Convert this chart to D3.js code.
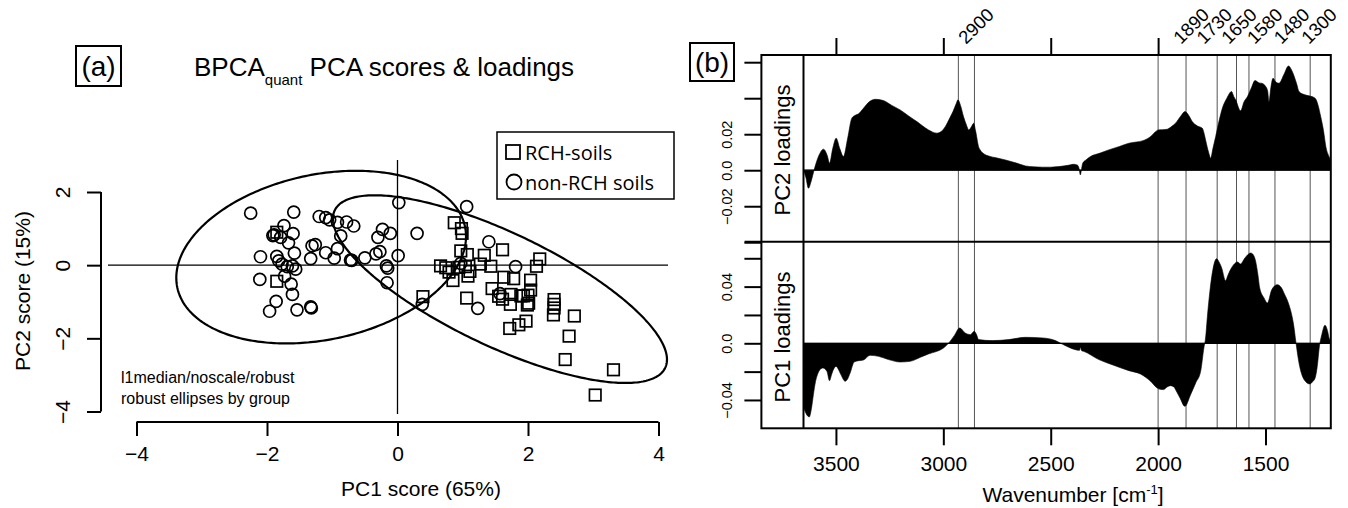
<!DOCTYPE html>
<html><head><meta charset="utf-8">
<script src="https://cdn.jsdelivr.net/npm/d3@7"></script>
<style>body{margin:0;background:#fff}svg{display:block}</style>
</head><body>
<svg id="c" width="1348" height="508"></svg>
<script>
// ---------- Panel (a) data ----------
const rchX = [-1.85,-1.85,0.87,0.98,0.99,0.97,1.07,1.33,1.61,2.18,2.13,0.66,0.74,0.79,0.94,1.04,1.08,1.11,1.27,1.43,0.85,1.63,1.78,2.04,1.45,0.39,1.06,1.55,1.61,1.73,1.74,1.89,1.93,2.00,1.99,2.01,2.04,2.40,2.40,2.40,2.39,2.71,1.97,1.86,1.72,2.63,2.57,3.31,3.03];
const rchY = [0.90,-0.44,1.16,1.00,0.87,0.39,0.29,0.27,0.42,0.17,-0.03,-0.02,-0.07,-0.19,-0.06,-0.04,-0.30,-0.17,0.03,-0.03,-0.42,-0.33,-0.37,-0.41,-0.64,-0.86,-0.90,-0.85,-0.93,-1.07,-0.80,-0.84,-0.84,-0.82,-1.09,-1.04,-0.68,-0.94,-1.07,-1.17,-1.36,-1.39,-1.53,-1.63,-1.73,-1.94,-2.58,-2.86,-3.55];
const nonX = [-2.25,-1.59,-1.20,-1.10,-1.04,-0.92,-0.78,-0.67,-1.74,-1.60,-1.91,-1.89,-1.79,-1.67,-1.31,-1.26,-0.87,-0.92,-1.10,-0.97,-0.72,-0.70,-0.50,-0.33,-0.27,-0.23,-0.11,-0.30,0.01,-0.17,-0.15,-0.16,0.02,-2.10,-2.11,-1.85,-1.82,-1.77,-1.69,-1.61,-1.56,-1.58,-1.33,-1.73,-1.63,-1.61,-1.86,-1.96,-1.54,-1.33,-1.32,1.06,0.30,1.40,1.81,1.23,0.38,1.57,0.97];
const nonY = [1.42,1.45,1.33,1.30,1.24,1.17,1.18,1.07,1.08,0.86,0.81,0.83,0.76,0.61,0.53,0.56,0.80,0.45,0.34,0.19,0.14,0.13,0.20,0.31,0.37,0.98,0.87,0.76,0.26,-0.02,-0.08,-0.48,1.71,0.23,-0.39,0.24,0.12,0.03,-0.04,-0.02,-0.11,0.33,0.18,-0.30,-0.52,-0.80,-0.99,-1.26,-1.22,-1.14,-1.17,1.60,0.87,0.64,-0.04,-1.18,-1.07,-0.78,0.05];
const groups = ["RCH-soils", "non-RCH soils"];
// robust ellipses: x = cx + ax*cos t, y = cy + by*cos(t - phi)
const ellCx = [1.57, -1.17];
const ellCy = [-0.655, 0.22];
const ellAx = [2.56, 2.22];
const ellBy = [2.565, 2.36];
const ellPhi = [2.419, 1.328];
const xTicksA = [-4, -2, 0, 2, 4];
const yTicksA = [-4, -2, 0, 2];

// ---------- Panel (b) data ----------
const pc2Wn  = [3651,3640,3628,3615,3602,3580,3558,3540,3530,3515,3499,3482,3465,3445,3426,3410,3395,3372,3345,3317,3279,3240,3201,3160,3123,3069,3030,3010,2991,2970,2955,2940,2932,2920,2906,2892,2882,2870,2859,2850,2836,2828,2810,2789,2750,2711,2660,2618,2580,2540,2500,2463,2420,2393,2375,2368,2362,2356,2351,2335,2315,2270,2230,2180,2136,2100,2074,2050,2035,2012,1999,1980,1957,1935,1919,1895,1875,1855,1841,1817,1794,1785,1779,1765,1755,1745,1732,1715,1701,1680,1658,1648,1639,1616,1600,1584,1565,1549,1530,1518,1499,1490,1484,1475,1465,1452,1437,1415,1393,1380,1372,1355,1344,1320,1297,1269,1255,1243,1230,1219,1201,1196];
const pc2Val = [0,-0.004,-0.010,-0.006,0,0.008,0.0117,0.008,0.0039,0.012,0.0178,0.012,0.0076,0.018,0.0289,0.0305,0.0313,0.0344,0.038,0.0394,0.0387,0.036,0.0335,0.030,0.0270,0.0224,0.0206,0.0215,0.0242,0.029,0.0326,0.037,0.0391,0.036,0.0298,0.025,0.0224,0.024,0.0261,0.022,0.0131,0.0112,0.009,0.0079,0.0068,0.0057,0.0040,0.0024,0.0019,0.0017,0.0017,0.0020,0.0027,0.0033,0.0028,0.0010,-0.0026,0.0010,0.0039,0.0058,0.0076,0.0095,0.0113,0.0132,0.0150,0.0157,0.0163,0.0175,0.0187,0.0214,0.0224,0.0225,0.0228,0.0245,0.0261,0.030,0.0326,0.030,0.0270,0.0246,0.0233,0.020,0.0168,0.010,0.0067,0.012,0.0187,0.028,0.0344,0.040,0.0437,0.041,0.0391,0.0330,0.038,0.0409,0.046,0.0498,0.0485,0.0483,0.0465,0.044,0.0381,0.046,0.0511,0.049,0.0483,0.053,0.0579,0.056,0.0539,0.048,0.0437,0.042,0.0413,0.0400,0.036,0.0298,0.022,0.0131,0.0067,0.005];
const pc1Wn  = [3651,3644,3624,3614,3605,3595,3586,3570,3561,3542,3530,3520,3512,3499,3490,3477,3457,3445,3434,3415,3395,3372,3341,3302,3255,3201,3154,3107,3069,3030,2999,2976,2949,2924,2898,2874,2856,2845,2836,2773,2696,2618,2540,2478,2447,2385,2366,2362,2356,2346,2276,2214,2136,2082,2035,2004,1990,1975,1960,1942,1925,1919,1900,1875,1849,1825,1802,1787,1779,1770,1759,1745,1728,1715,1704,1686,1675,1663,1645,1631,1616,1596,1569,1555,1546,1535,1527,1507,1491,1471,1445,1425,1414,1395,1382,1368,1359,1344,1320,1294,1280,1269,1258,1250,1238,1223,1210,1204,1196];
const pc1Val = [-0.045,-0.048,-0.052,-0.046,-0.0363,-0.027,-0.0221,-0.018,-0.0174,-0.0198,-0.0264,-0.022,-0.0186,-0.0163,-0.018,-0.0221,-0.0268,-0.025,-0.0210,-0.0132,-0.0123,-0.0118,-0.0085,-0.0092,-0.0115,-0.0132,-0.0127,-0.0099,-0.0075,-0.0057,-0.0033,0,0.0054,0.0108,0.0073,0.0061,0.0085,0.006,0.0026,0.0019,0.0026,0.0042,0.0038,0.0019,-0.0005,-0.0045,-0.0050,-0.0028,-0.0052,-0.0057,-0.0115,-0.0151,-0.0193,-0.0217,-0.0268,-0.0316,-0.0325,-0.0327,-0.031,-0.0299,-0.031,-0.0327,-0.038,-0.0445,-0.0363,-0.0280,-0.0198,-0.0033,0.0037,0.020,0.0367,0.052,0.0597,0.057,0.0532,0.0442,0.048,0.0520,0.056,0.0574,0.0560,0.0602,0.0637,0.062,0.0579,0.048,0.0390,0.0320,0.0284,0.0378,0.0414,0.039,0.0355,0.029,0.0226,0.012,0.0014,-0.0139,-0.0257,-0.0287,-0.027,-0.0245,-0.015,-0.0033,0.0061,0.0127,0.008,0.0037,0.002];
const bandWn = [2930, 2855, 2000, 1870, 1725, 1635, 1577, 1456, 1292];
const bandLabels = ["2900", "1890", "1730", "1650", "1580", "1480", "1300"];
const bandLabelWn = [2895, 1893, 1785, 1670, 1550, 1425, 1298];
const wnTicksBottom = [3500, 3000, 2500, 2000, 1500];
const wnTicksTop = [3500, 3000, 2500, 2000];
const pc2Ticks = [-0.04, -0.02, 0, 0.02, 0.04, 0.06];
const pc2Labels = ["", "\u22120.02", "0.0", "0.02", "", ""];
const pc1Ticks = [-0.04, -0.02, 0, 0.02, 0.04, 0.06];
const pc1Labels = ["\u22120.04", "", "0.0", "", "0.04", ""];

// ---------- drawing ----------
const svg = d3.select("#c");
const F = "'Liberation Sans', Arial, Helvetica, sans-serif";
const fmtA = d => d < 0 ? "\u2212" + Math.abs(d) : String(d);

// ===== Panel (a) =====
const xA = d3.scaleLinear().domain([-4, 4]).range([136.5, 658.5]);
const yA = d3.scaleLinear().domain([-4, 2]).range([411.5, 192]);
const gA = svg.append("g");

const xAxisA = d3.axisBottom(xA).tickValues(xTicksA).tickSize(14).tickPadding(5).tickFormat(fmtA);
const gxA = gA.append("g").attr("transform", "translate(0,422)").call(xAxisA);
const yAxisA = d3.axisLeft(yA).tickValues(yTicksA).tickSize(14).tickPadding(12).tickFormat(fmtA);
const gyA = gA.append("g").attr("transform", "translate(101,0)").call(yAxisA);
[gxA, gyA].forEach(g => {
  g.select(".domain").attr("stroke", "#000").attr("stroke-width", 2);
  g.selectAll(".tick line").attr("stroke", "#000").attr("stroke-width", 2);
  g.selectAll("text").attr("font-family", F).attr("font-size", 21).attr("fill", "#000");
});
gxA.selectAll(".domain").attr("d", `M${xA(-4)},0H${xA(4)}`);
gyA.selectAll(".domain").attr("d", `M0,${yA(-4)}V${yA(2)}`);
gyA.selectAll(".tick text").attr("text-anchor", "middle").attr("x", 0).attr("y", 0).attr("dy", 0)
   .attr("dominant-baseline", "central").attr("transform", "translate(-39,0) rotate(-90)");
gxA.selectAll(".tick text").attr("dy", "0.95em");

// zero lines
gA.append("line").attr("x1", 108).attr("x2", 668).attr("y1", yA(0)).attr("y2", yA(0)).attr("stroke", "#000").attr("stroke-width", 1.3);
gA.append("line").attr("x1", xA(0)).attr("x2", xA(0)).attr("y1", 160).attr("y2", 414).attr("stroke", "#000").attr("stroke-width", 1.3);

// ellipses
const tt = d3.range(0, 2 * Math.PI + 0.01, 0.02);
const lineA = d3.line().x(d => xA(d[0])).y(d => yA(d[1]));
groups.forEach((g, i) => {
  const pts = tt.map(t => [ellCx[i] + ellAx[i] * Math.cos(t), ellCy[i] + ellBy[i] * Math.cos(t - ellPhi[i])]);
  gA.append("path").attr("d", lineA(pts) + "Z").attr("fill", "none").attr("stroke", "#000").attr("stroke-width", 2.2);
});

// points
const sq = 11.5;
gA.append("g").selectAll("rect").data(d3.zip(rchX, rchY)).join("rect")
  .attr("x", d => xA(d[0]) - sq / 2).attr("y", d => yA(d[1]) - sq / 2)
  .attr("width", sq).attr("height", sq).attr("fill", "none").attr("stroke", "#000").attr("stroke-width", 1.7);
gA.append("g").selectAll("circle").data(d3.zip(nonX, nonY)).join("circle")
  .attr("cx", d => xA(d[0])).attr("cy", d => yA(d[1])).attr("r", 6)
  .attr("fill", "none").attr("stroke", "#000").attr("stroke-width", 1.7);

// axis titles
gA.append("text").attr("x", 421).attr("y", 496).attr("text-anchor", "middle")
  .attr("font-family", F).attr("font-size", 21).text("PC1 score (65%)");
gA.append("text").attr("transform", "translate(22,291) rotate(-90)").attr("text-anchor", "middle")
  .attr("dominant-baseline", "central").attr("font-family", F).attr("font-size", 21).text("PC2 score (15%)");

// annotation
gA.append("text").attr("x", 121).attr("y", 383).attr("font-family", F).attr("font-size", 16).text("l1median/noscale/robust");
gA.append("text").attr("x", 121).attr("y", 404).attr("font-family", F).attr("font-size", 16).text("robust ellipses by group");

// title
const tA = gA.append("text").attr("x", 194).attr("y", 76).attr("font-family", F).attr("font-size", 26);
tA.append("tspan").text("BPCA");
tA.append("tspan").attr("font-size", 15).attr("dy", 9).text("quant");
tA.append("tspan").attr("dy", -9).text(" PCA scores & loadings");

// (a) label
gA.append("rect").attr("x", 76).attr("y", 46).attr("width", 45).attr("height", 40).attr("fill", "none").attr("stroke", "#000").attr("stroke-width", 2);
gA.append("text").attr("x", 98.5).attr("y", 76).attr("text-anchor", "middle").attr("font-family", F).attr("font-size", 28).text("(a)");

// legend
const LF = "'Open Sans', 'Noto Sans', sans-serif";
gA.append("rect").attr("x", 497).attr("y", 132).attr("width", 177).attr("height", 67).attr("fill", "#fff").attr("stroke", "#000").attr("stroke-width", 1.5);
groups.forEach((g, i) => {
  const cy = 152 + i * 30;
  if (i === 0) gA.append("rect").attr("x", 506).attr("y", cy - 7).attr("width", 14).attr("height", 14).attr("fill", "none").attr("stroke", "#000").attr("stroke-width", 1.8);
  else gA.append("circle").attr("cx", 514).attr("cy", cy).attr("r", 7.5).attr("fill", "none").attr("stroke", "#000").attr("stroke-width", 1.8);
  gA.append("text").attr("x", 525).attr("y", cy).attr("dominant-baseline", "central")
    .attr("font-family", LF).attr("font-size", 20).text(g);
});

// ===== Panel (b) =====
const xB = d3.scaleLinear().domain([3847, 1196]).range([761.4, 1330.8]);
const yTop = d3.scaleLinear().domain([-0.0397, 0.064]).range([241.7, 55]);
const yBot = d3.scaleLinear().domain([-0.060, 0.0717]).range([428.3, 241.7]);
const gB = svg.append("g");
const x0 = xB(3651), x1 = xB(1196);

gB.append("g").selectAll("line").data(bandWn).join("line")
  .attr("x1", d => xB(d)).attr("x2", d => xB(d)).attr("y1", 55).attr("y2", 428.3)
  .attr("stroke", "#555").attr("stroke-width", 1);

const clip = svg.append("clipPath").attr("id", "clipB");
clip.append("rect").attr("x", x0).attr("y", 55).attr("width", x1 - x0).attr("height", 373.3);
const areaTop = d3.area().x(d => xB(d[0])).y0(yTop(0)).y1(d => yTop(d[1])).curve(d3.curveMonotoneX);
const areaBot = d3.area().x(d => xB(d[0])).y0(yBot(0)).y1(d => yBot(d[1])).curve(d3.curveMonotoneX);
gB.append("path").attr("clip-path", "url(#clipB)").attr("d", areaTop(d3.zip(pc2Wn, pc2Val))).attr("fill", "#000").attr("stroke", "#000").attr("stroke-width", 0.6);
gB.append("path").attr("clip-path", "url(#clipB)").attr("d", areaBot(d3.zip(pc1Wn, pc1Val))).attr("fill", "#000").attr("stroke", "#000").attr("stroke-width", 0.6);
gB.append("line").attr("x1", x0).attr("x2", x1).attr("y1", yTop(0)).attr("y2", yTop(0)).attr("stroke", "#000").attr("stroke-width", 1.3);
gB.append("line").attr("x1", x0).attr("x2", x1).attr("y1", yBot(0)).attr("y2", yBot(0)).attr("stroke", "#000").attr("stroke-width", 1.3);

gB.append("rect").attr("x", 761.4).attr("y", 55).attr("width", 1330.8 - 761.4).attr("height", 428.3 - 55)
  .attr("fill", "none").attr("stroke", "#000").attr("stroke-width", 2);
gB.append("line").attr("x1", 744.6).attr("x2", 1330.8).attr("y1", 241.7).attr("y2", 241.7).attr("stroke", "#000").attr("stroke-width", 2);
gB.append("line").attr("x1", x0).attr("x2", x0).attr("y1", 55).attr("y2", 428.3).attr("stroke", "#000").attr("stroke-width", 2);

function styleAxis(g, fs) {
  g.select(".domain").remove();
  g.selectAll(".tick line").attr("stroke", "#000").attr("stroke-width", 2);
  g.selectAll("text").attr("font-family", F).attr("font-size", fs).attr("fill", "#000");
}
const gxb = gB.append("g").attr("transform", "translate(0,428.3)")
  .call(d3.axisBottom(xB).tickValues(wnTicksBottom).tickSize(17).tickPadding(7).tickFormat(d3.format("d")));
styleAxis(gxb, 21);
gxb.selectAll(".tick text").attr("dy", "0.9em");
const gxt = gB.append("g").attr("transform", "translate(0,55)")
  .call(d3.axisTop(xB).tickValues(wnTicksTop).tickSize(17).tickFormat(""));
styleAxis(gxt, 16);

function yAxisB(scale, ticks, labels) {
  const g = gB.append("g").attr("transform", "translate(761.4,0)")
    .call(d3.axisLeft(scale).tickValues(ticks).tickSize(17).tickFormat((d, i) => labels[i]));
  styleAxis(g, 14.5);
  g.selectAll(".tick text").attr("x", 0).attr("dy", 0).attr("text-anchor", "middle")
    .attr("dominant-baseline", "central").attr("transform", "translate(-34,0) rotate(-90)");
}
yAxisB(yTop, pc2Ticks, pc2Labels);
yAxisB(yBot, pc1Ticks, pc1Labels);

const stripX = (761.4 + x0) / 2;
gB.append("text").attr("transform", `translate(${stripX},150) rotate(-90)`).attr("text-anchor", "middle")
  .attr("dominant-baseline", "central").attr("font-family", F).attr("font-size", 22).text("PC2 loadings");
gB.append("text").attr("transform", `translate(${stripX},337) rotate(-90)`).attr("text-anchor", "middle")
  .attr("dominant-baseline", "central").attr("font-family", F).attr("font-size", 22).text("PC1 loadings");

gB.append("g").selectAll("text").data(bandLabels).join("text")
  .attr("transform", (d, i) => `translate(${xB(bandLabelWn[i])},45) rotate(-45)`)
  .attr("font-family", F).attr("font-size", 18.5).text(d => d);

const tB = gB.append("text").attr("x", 1073).attr("y", 502).attr("text-anchor", "middle").attr("font-family", F).attr("font-size", 21);
tB.append("tspan").text("Wavenumber [cm");
tB.append("tspan").attr("font-size", 13).attr("dy", -8).text("-1");
tB.append("tspan").attr("dy", 8).text("]");

gB.append("rect").attr("x", 690).attr("y", 43).attr("width", 44).attr("height", 38).attr("fill", "none").attr("stroke", "#000").attr("stroke-width", 2);
gB.append("text").attr("x", 712).attr("y", 72).attr("text-anchor", "middle").attr("font-family", F).attr("font-size", 28).text("(b)");
</script>
</body></html>
